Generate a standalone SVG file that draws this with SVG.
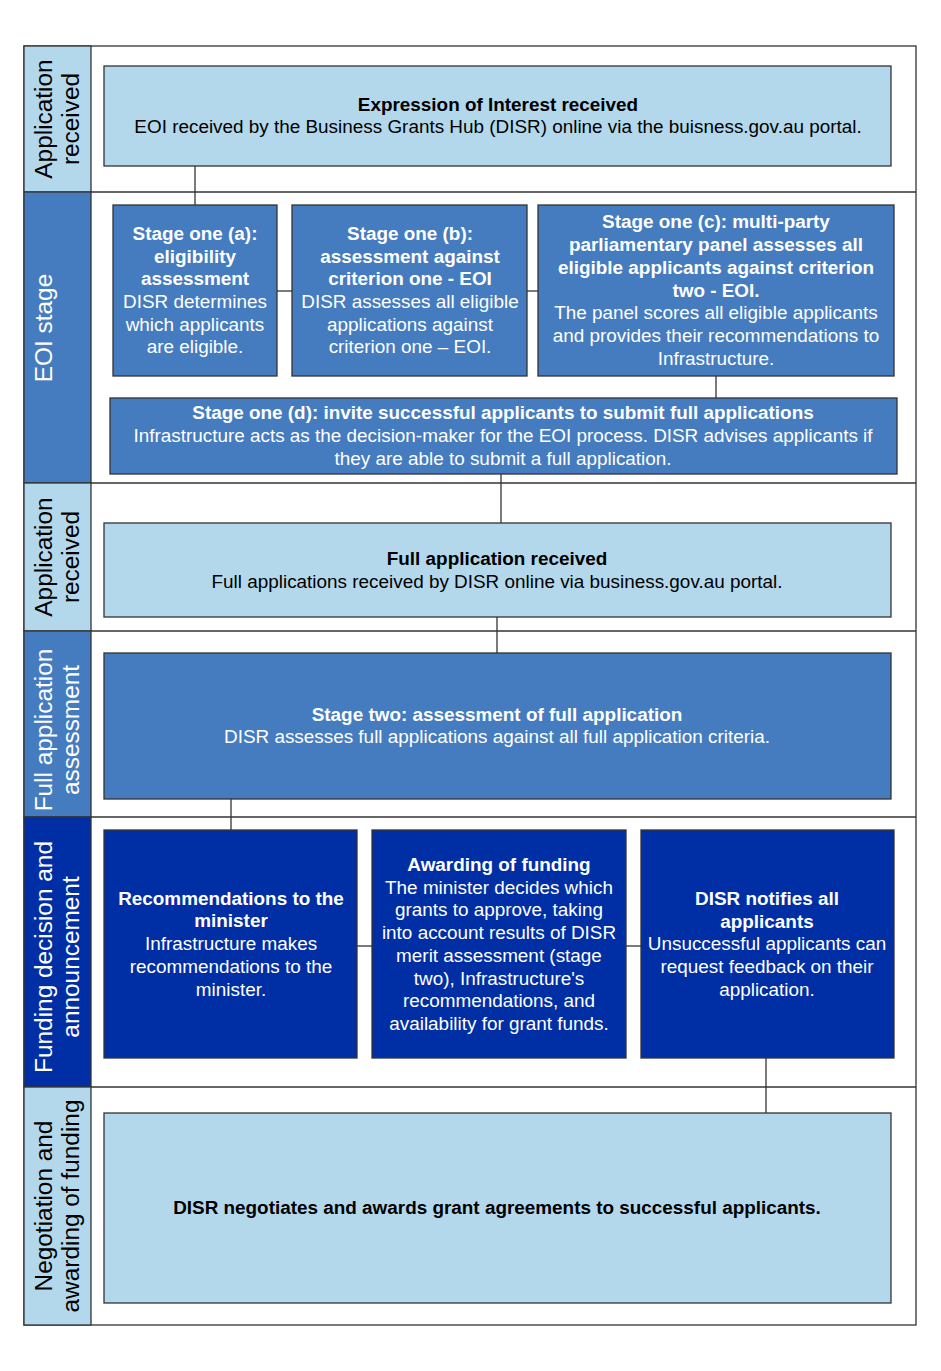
<svg xmlns="http://www.w3.org/2000/svg" width="941" height="1371" viewBox="0 0 941 1371">
<style>
.lt{fill:#B4D8EB;stroke:#333;stroke-width:1.3}
.md{fill:#457CC0;stroke:#333;stroke-width:1.3}
.dk{fill:#002FA5;stroke:#333;stroke-width:1.3}
.lane{stroke:#333;stroke-width:1.3}
text{font-family:"Liberation Sans",Arial,sans-serif;font-size:18.9px;text-anchor:middle}
.lbl{font-size:24.4px}
.b{font-weight:bold}
.w{fill:#fff}
.k{fill:#000}
.cn{stroke:#333;stroke-width:1.3;fill:none}
</style>
<rect x="0" y="0" width="941" height="1371" fill="#fff"/>
<g id="lanes">
<rect x="24" y="46" width="892" height="1279" fill="#fff" class="lane"/>
<rect x="24" y="46" width="67" height="146" class="lt"/>
<rect x="24" y="192" width="67" height="291" class="md"/>
<rect x="24" y="483" width="67" height="148" class="lt"/>
<rect x="24" y="631" width="67" height="186" class="md"/>
<rect x="24" y="817" width="67" height="270" class="dk"/>
<rect x="24" y="1087" width="67" height="238" class="lt"/>
<line x1="91" y1="192" x2="916" y2="192" class="lane"/>
<line x1="91" y1="483" x2="916" y2="483" class="lane"/>
<line x1="91" y1="631" x2="916" y2="631" class="lane"/>
<line x1="91" y1="817" x2="916" y2="817" class="lane"/>
<line x1="91" y1="1087" x2="916" y2="1087" class="lane"/>
<text class="lbl k" transform="translate(57.5,119) rotate(-90)"><tspan x="0" y="-6">Application</tspan><tspan x="0" y="21">received</tspan></text>
<text class="lbl w" transform="translate(57.5,328) rotate(-90)"><tspan x="0" y="-6">EOI stage</tspan></text>
<text class="lbl k" transform="translate(57.5,557) rotate(-90)"><tspan x="0" y="-6">Application</tspan><tspan x="0" y="21">received</tspan></text>
<text class="lbl w" transform="translate(57.5,730) rotate(-90)"><tspan x="0" y="-6">Full application</tspan><tspan x="0" y="21">assessment</tspan></text>
<text class="lbl w" transform="translate(57.5,957) rotate(-90)"><tspan x="0" y="-6">Funding decision and</tspan><tspan x="0" y="21">announcement</tspan></text>
<text class="lbl k" transform="translate(57.5,1206) rotate(-90)"><tspan x="0" y="-6">Negotiation and</tspan><tspan x="0" y="21">awarding of funding</tspan></text>
</g>
<g id="connectors">
<line x1="195" y1="166" x2="195" y2="205" class="cn"/>
<line x1="277" y1="291" x2="292" y2="291" class="cn"/>
<line x1="527" y1="291" x2="538" y2="291" class="cn"/>
<line x1="716" y1="376" x2="716" y2="398" class="cn"/>
<line x1="501" y1="474" x2="501" y2="523" class="cn"/>
<line x1="497" y1="617" x2="497" y2="653" class="cn"/>
<line x1="231" y1="799" x2="231" y2="830" class="cn"/>
<line x1="357" y1="946" x2="372" y2="946" class="cn"/>
<line x1="626" y1="946" x2="641" y2="946" class="cn"/>
<line x1="766" y1="1058" x2="766" y2="1113" class="cn"/>
</g>
<g id="eoi-received">
<rect x="104" y="66" width="787" height="100" class="lt"/>
<text class="k"><tspan x="498" y="110.5" class="b">Expression of Interest received</tspan><tspan x="498" y="132.5">EOI received by the Business Grants Hub (DISR) online via the buisness.gov.au portal.</tspan></text>
</g>
<g id="stage-a">
<rect x="113" y="205" width="164" height="171" class="md"/>
<text class="w"><tspan x="195" y="239.5" class="b">Stage one (a):</tspan><tspan x="195" y="262.5" class="b">eligibility</tspan><tspan x="195" y="284.5" class="b">assessment</tspan><tspan x="195" y="307.5">DISR determines</tspan><tspan x="195" y="330.5">which applicants</tspan><tspan x="195" y="352.5">are eligible.</tspan></text>
</g>
<g id="stage-b">
<rect x="292" y="205" width="235" height="171" class="md"/>
<text class="w"><tspan x="410" y="239.5" class="b">Stage one (b):</tspan><tspan x="410" y="262.5" class="b">assessment against</tspan><tspan x="410" y="284.5" class="b">criterion one - EOI</tspan><tspan x="410" y="307.5">DISR assesses all eligible</tspan><tspan x="410" y="330.5">applications against</tspan><tspan x="410" y="352.5">criterion one – EOI.</tspan></text>
</g>
<g id="stage-c">
<rect x="538" y="205" width="356" height="171" class="md"/>
<text class="w"><tspan x="716" y="227.5" class="b">Stage one (c): multi-party</tspan><tspan x="716" y="250.5" class="b">parliamentary panel assesses all</tspan><tspan x="716" y="273.5" class="b">eligible applicants against criterion</tspan><tspan x="716" y="296.5" class="b">two - EOI.</tspan><tspan x="716" y="318.5">The panel scores all eligible applicants</tspan><tspan x="716" y="341.5">and provides their recommendations to</tspan><tspan x="716" y="364.5">Infrastructure.</tspan></text>
</g>
<g id="stage-d">
<rect x="110" y="398" width="787" height="76" class="md"/>
<text class="w"><tspan x="503" y="418.5" class="b">Stage one (d): invite successful applicants to submit full applications</tspan><tspan x="503" y="441.5">Infrastructure acts as the decision-maker for the EOI process. DISR advises applicants if</tspan><tspan x="503" y="464.5">they are able to submit a full application.</tspan></text>
</g>
<g id="full-received">
<rect x="104" y="523" width="787" height="94" class="lt"/>
<text class="k"><tspan x="497" y="564.5" class="b">Full application received</tspan><tspan x="497" y="587.5">Full applications received by DISR online via business.gov.au portal.</tspan></text>
</g>
<g id="stage-two">
<rect x="104" y="653" width="787" height="146" class="md"/>
<text class="w"><tspan x="497" y="720.5" class="b">Stage two: assessment of full application</tspan><tspan x="497" y="742.5">DISR assesses full applications against all full application criteria.</tspan></text>
</g>
<g id="recommendations">
<rect x="104" y="830" width="253" height="228" class="dk"/>
<text class="w"><tspan x="231" y="904.5" class="b">Recommendations to the</tspan><tspan x="231" y="926.5" class="b">minister</tspan><tspan x="231" y="949.5">Infrastructure makes</tspan><tspan x="231" y="972.5">recommendations to the</tspan><tspan x="231" y="995.5">minister.</tspan></text>
</g>
<g id="awarding">
<rect x="372" y="830" width="254" height="228" class="dk"/>
<text class="w"><tspan x="499" y="870.5" class="b">Awarding of funding</tspan><tspan x="499" y="893.5">The minister decides which</tspan><tspan x="499" y="915.5">grants to approve, taking</tspan><tspan x="499" y="938.5">into account results of DISR</tspan><tspan x="499" y="961.5">merit assessment (stage</tspan><tspan x="499" y="984.5">two), Infrastructure's</tspan><tspan x="499" y="1006.5">recommendations, and</tspan><tspan x="499" y="1029.5">availability for grant funds.</tspan></text>
</g>
<g id="notifies">
<rect x="641" y="830" width="253" height="228" class="dk"/>
<text class="w"><tspan x="767" y="904.5" class="b">DISR notifies all</tspan><tspan x="767" y="927.5" class="b">applicants</tspan><tspan x="767" y="949.5">Unsuccessful applicants can</tspan><tspan x="767" y="972.5">request feedback on their</tspan><tspan x="767" y="995.5">application.</tspan></text>
</g>
<g id="negotiates">
<rect x="104" y="1113" width="787" height="190" class="lt"/>
<text class="k b" x="497" y="1213.5">DISR negotiates and awards grant agreements to successful applicants.</text>
</g>
</svg>
